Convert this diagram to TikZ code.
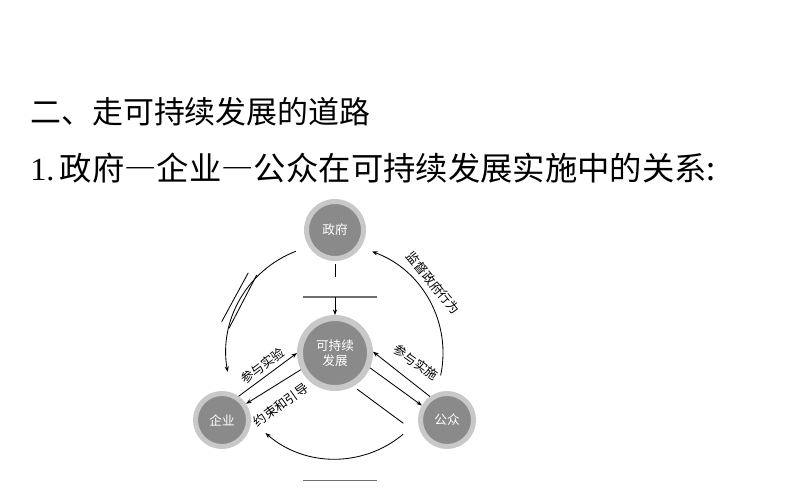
\documentclass[tikz,border=0pt]{standalone}
\usepackage{fontspec}
\setmainfont{Liberation Serif}
\newfontfamily\cjk{Noto Sans CJK SC}
\newfontfamily\cjkfw[RawFeature=+fwid]{Noto Sans CJK SC}
\usetikzlibrary{arrows.meta}
\definecolor{ringgray}{RGB}{200,200,200}
\definecolor{coregray}{RGB}{138,138,138}
\definecolor{blankgray}{RGB}{110,110,110}

\begin{document}
\begin{tikzpicture}[x=0.025cm, y=0.025cm,
  hub/.style={circle, fill=coregray, draw=ringgray, text=white, align=center,
    inner sep=0pt, font=\cjk\fontsize{9}{11}\selectfont},
  lbl/.style={inner sep=0pt, font=\cjk\fontsize{9}{11}\selectfont},
  arr/.style={-{Stealth[length=4pt,width=3pt]}, line width=0.6pt},
  blank/.style={draw=blankgray, line width=1.1pt}]
  \useasboundingbox (0,0) rectangle (794,495);

  % Heading
  \node[anchor=west, inner sep=0pt] (t1) at (30,383) {\cjk\fontsize{22}{26}\selectfont 二、走可持续发展的道路};
  \node[anchor=west, inner sep=0pt] (t2) at (30,327) {\fontsize{23}{27}\selectfont 1.\,\cjk 政府{\cjkfw —}企业{\cjkfw —}公众在可持续发展实施中的关系:};

  % Circles
  \node[hub, minimum size=1.425cm, line width=0.125cm] (zf) at (335,265) {政府};
  \node[hub, minimum size=1.75cm, line width=0.15cm] (kcx) at (335,142) {可持续\\发展};
  \node[hub, minimum size=1.325cm, line width=0.125cm] (qy) at (222,75) {企业};
  \node[hub, minimum size=1.325cm, line width=0.125cm] (gz) at (447,75) {公众};

  % Hub arrows
  \draw[arr] (qy.55) -- (kcx.180);
  \draw[arr] (kcx.206) -- (qy.34);
  \draw[arr] (gz.126) -- (kcx.2);
  \draw[arr] (kcx.-23) -- (gz.150);

  % Outer arcs
  \draw[arr] ([shift={(111:109)}]kcx.center) arc[start angle=111, end angle=190, radius=109];
  \draw[arr] ([shift={(-12:108)}]kcx.center) arc[start angle=-12, end angle=70, radius=108];
  \draw[arr] ([shift={(-50:106)}]kcx.center) arc[start angle=-50, end angle=-131, radius=106];

  % Blank lines
  \coordinate (bar) at (335,198);
  \draw[line width=0.6pt] (zf.south) ++(0,-3) -- ++(0,-13);
  \draw[blank] (303,198) -- (377,198);
  \draw[arr] (bar) -- (kcx.north);
  \draw[line width=0.6pt] (248.3,222.3) -- (221.7,173.3);
  \draw[line width=0.6pt] (256.7,220) -- (229,166.7);
  \draw[line width=0.6pt] (357.3,105.7) -- (403.3,71.7);
  \draw[blank] (303,14.7) -- (377,14.7);

  % Labels
  \node[lbl, rotate=-50.5] (l1) at (433,212) {监督政府行为};
  \node[lbl, rotate=-35] (l2) at (415.8,132.5) {参与实施};
  \node[lbl, rotate=37] (l3) at (262.5,129.2) {参与实验};
  \node[lbl, rotate=35.4] (l4) at (280.8,90) {约束和引导};
\end{tikzpicture}
\end{document}
